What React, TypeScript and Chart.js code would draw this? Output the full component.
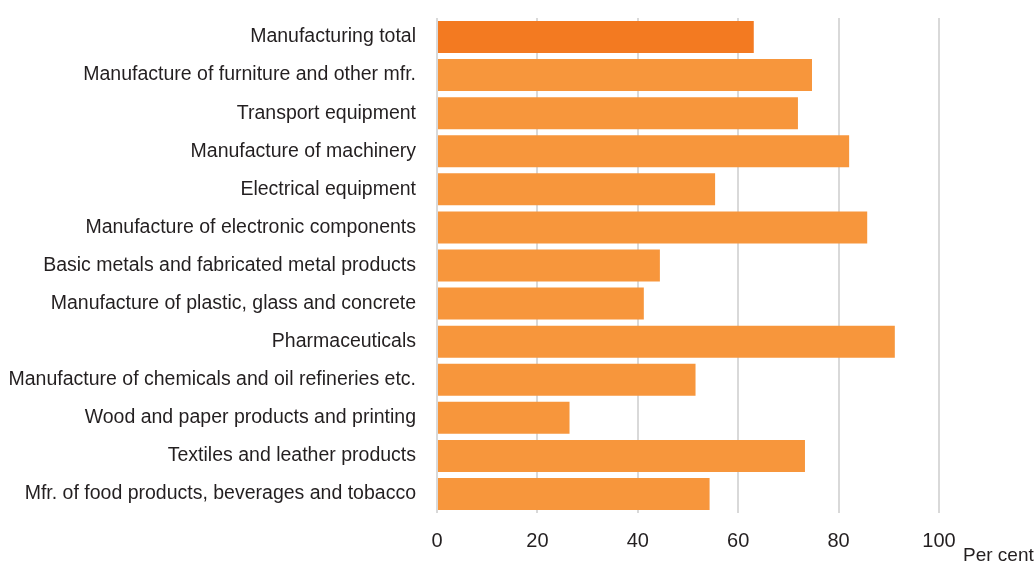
import React, { useEffect, useRef } from "react";
import { Chart, registerables } from "chart.js";

Chart.register(...registerables);

const categories = [
  "Manufacturing total",
  "Manufacture of furniture and other mfr.",
  "Transport equipment",
  "Manufacture of machinery",
  "Electrical equipment",
  "Manufacture of electronic components",
  "Basic metals and fabricated metal products",
  "Manufacture of plastic, glass and concrete",
  "Pharmaceuticals",
  "Manufacture of chemicals and oil refineries etc.",
  "Wood and paper products and printing",
  "Textiles and leather products",
  "Mfr. of food products, beverages and tobacco",
];

const values = [63.1, 74.7, 71.9, 82.1, 55.4, 85.7, 44.4, 41.2, 91.2, 51.5, 26.4, 73.3, 54.3];

const xTicks = [0, 20, 40, 60, 80, 100];
const unitLabel = "Per cent";

const totalColor = "#F37A21";
const barColor = "#F7963C";
const FONT = "'Liberation Sans', Arial, sans-serif";

const AREA_TOP = 18;
const AREA_BOTTOM = 513;

export default function App() {
  const ref = useRef<HTMLCanvasElement | null>(null);

  useEffect(() => {
    if (!ref.current) return;
    const unitPlugin = {
      id: "unitLabel",
      afterLayout(chart: any) {
        const ca = chart.chartArea;
        ca.top = AREA_TOP;
        ca.bottom = AREA_BOTTOM;
        ca.height = AREA_BOTTOM - AREA_TOP;
        const y = chart.scales.y;
        y.top = AREA_TOP;
        y.bottom = AREA_BOTTOM;
        y.height = AREA_BOTTOM - AREA_TOP;
        y.configure();
        const x = chart.scales.x;
        x.top = AREA_BOTTOM;
        x.bottom = chart.height;
        x.height = chart.height - AREA_BOTTOM;
        x.configure();
      },
      afterDraw(chart: any) {
        const ctx = chart.ctx;
        ctx.save();
        ctx.font = `19px ${FONT}`;
        ctx.fillStyle = "#231f20";
        ctx.textAlign = "left";
        ctx.textBaseline = "alphabetic";
        ctx.fillText(unitLabel, 963, 561);
        ctx.restore();
      },
    };
    const chart = new Chart(ref.current, {
      type: "bar",
      data: {
        labels: categories,
        datasets: [
          {
            data: values,
            backgroundColor: values.map((_, i) => (i === 0 ? totalColor : barColor)),
            borderWidth: 0,
            barPercentage: 0.84,
            categoryPercentage: 1,
          },
        ],
      },
      options: {
        indexAxis: "y",
        responsive: false,
        animation: false,
        layout: { padding: { top: 3, right: 96, left: 0, bottom: 0 } },
        plugins: { legend: { display: false }, tooltip: { enabled: false } },
        scales: {
          x: {
            min: 0,
            max: 100,
            afterBuildTicks(scale: any) {
              scale.ticks = xTicks.map((v) => ({ value: v }));
            },
            afterFit(scale: any) {
              scale.height = 50;
            },
            grid: { color: "#d9d9d9", lineWidth: 2, drawTicks: false },
            border: { display: false },
            ticks: {
              padding: 16,
              color: "#231f20",
              font: { family: FONT, size: 20 },
            },
          },
          y: {
            afterFit(scale: any) {
              scale.width = 437;
            },
            grid: { display: false, drawTicks: false },
            border: { display: false },
            ticks: {
              padding: 21,
              color: "#231f20",
              font: { family: FONT, size: 19.5 },
              autoSkip: false,
            },
          },
        },
      },
      plugins: [unitPlugin],
    } as any);
    return () => chart.destroy();
  }, []);

  return (
    <div style={{ position: "absolute", left: 0, top: 0, width: 1035, height: 563, background: "#fff" }}>
      <canvas ref={ref} width={1035} height={563} style={{ display: "block" }} />
    </div>
  );
}
